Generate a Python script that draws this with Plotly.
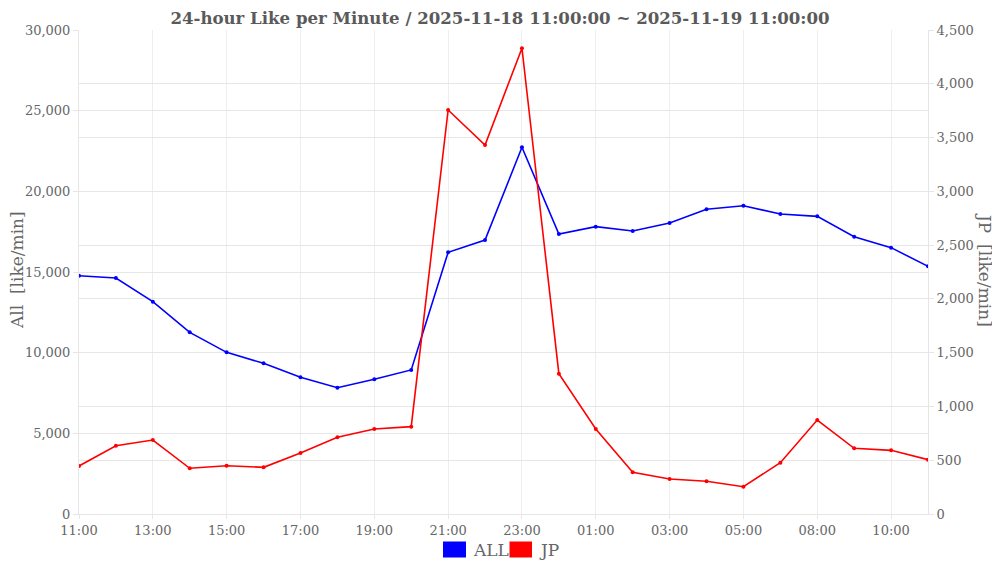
import plotly.graph_objects as go

hours = ["11:00", "12:00", "13:00", "14:00", "15:00", "16:00", "17:00", "18:00",
         "19:00", "20:00", "21:00", "22:00", "23:00", "00:00", "01:00", "02:00",
         "03:00", "04:00", "05:00", "07:00", "08:00", "09:00", "10:00", "11:00 "]

all_vals = [14770, 14630, 13160, 11260, 10020, 9340, 8470, 7830, 8350, 8930,
            16220, 16980, 22730, 17355, 17810, 17540, 18040, 18885, 19110, 18595,
            18450, 17190, 16510, 15350]

jp_vals = [446, 635, 688, 425, 449, 434, 567, 713, 790, 812,
           3756, 3431, 4330, 1305, 790, 388, 325, 304, 254, 477,
           874, 611, 592, 505]

title_text = "24-hour Like per Minute / 2025-11-18 11:00:00 ~ 2025-11-19 11:00:00"
left_title = "All  [like/min]"
right_title = "JP  [like/min]"
series_names = ["ALL", "JP"]
series_colors = ["#0000ff", "#ff0000"]

FONT = "DejaVu Serif"
GRID = "#e6e6e6"
TXT = "#666666"

# page has an 8px body margin; figure sized to fit the window
OFF = 8
W, H = 992, 555
L, T = 79 - OFF, 30 - OFF
R = W - (928 - OFF)
B = H - (514 - OFF)
PW = W - L - R
PH = H - T - B


def px_x(x):
    return (x - OFF - L) / PW


def px_y(y):
    return (H - B - (y - OFF)) / PH


fig = go.Figure()
fig.add_trace(go.Scatter(x=hours, y=all_vals, name=series_names[0], mode="lines+markers",
                         line=dict(color=series_colors[0], width=1.6),
                         marker=dict(size=4, color=series_colors[0]),
                         yaxis="y", showlegend=False))
fig.add_trace(go.Scatter(x=hours, y=jp_vals, name=series_names[1], mode="lines+markers",
                         line=dict(color=series_colors[1], width=1.6),
                         marker=dict(size=4, color=series_colors[1]),
                         yaxis="y2", showlegend=False))

fig.update_layout(
    width=W, height=H,
    margin=dict(l=L, r=R, t=T, b=B, autoexpand=False),
    paper_bgcolor="white", plot_bgcolor="white",
    font=dict(family=FONT, color=TXT, size=13),
    title=dict(text="<b>" + title_text + "</b>", x=(500 - OFF) / W, xanchor="center",
               xref="container", y=1 - (18 - OFF) / H, yanchor="middle", automargin=False,
               font=dict(family=FONT, size=16.6, color="#5a5a5a")),
    xaxis=dict(type="category", categoryorder="array", categoryarray=hours,
               range=[0, len(hours) - 1], tickmode="linear", tick0=0, dtick=2,
               showgrid=True, gridcolor="#eeeeee", showline=True, linecolor=GRID,
               ticks="outside", ticklen=4, tickcolor=GRID, automargin=False,
               tickfont=dict(family=FONT, size=13, color=TXT), zeroline=False),
    yaxis=dict(range=[0, 30000], dtick=5000, tickformat=",", automargin=False,
               showgrid=True, gridcolor=GRID, showline=True, linecolor=GRID,
               ticks="outside", ticklen=5, tickcolor=GRID, zeroline=False,
               tickfont=dict(family=FONT, size=13, color=TXT)),
    yaxis2=dict(range=[0, 4500], dtick=500, tickformat=",", overlaying="y", side="right",
                showgrid=True, gridcolor=GRID, showline=True, linecolor=GRID,
                ticks="outside", ticklen=5, tickcolor=GRID, zeroline=False, automargin=False,
                tickfont=dict(family=FONT, size=13, color=TXT)),
)

fig.add_annotation(text=left_title, xref="paper", yref="paper", x=px_x(17), y=px_y(270),
                   textangle=-90, showarrow=False, xanchor="center", yanchor="middle",
                   font=dict(family=FONT, size=17, color=TXT))
fig.add_annotation(text=right_title, xref="paper", yref="paper", x=px_x(985), y=px_y(270),
                   textangle=90, showarrow=False, xanchor="center", yanchor="middle",
                   font=dict(family=FONT, size=17, color=TXT))

# legend drawn as boxes + labels
ly0, ly1 = px_y(557.5), px_y(541.5)
box_specs = [(443, 466, 471), (509.5, 532, 537)]
for (x0, x1, tx), nm, col in zip(box_specs, series_names, series_colors):
    fig.add_shape(type="rect", xref="paper", yref="paper",
                  x0=px_x(x0), x1=px_x(x1), y0=ly0, y1=ly1,
                  fillcolor=col, line=dict(width=0))
    fig.add_annotation(text=nm, xref="paper", yref="paper", x=px_x(tx),
                       y=(ly0 + ly1) / 2, xanchor="left", yanchor="middle",
                       showarrow=False, font=dict(family=FONT, size=17, color=TXT))

fig.write_html("out.html")
